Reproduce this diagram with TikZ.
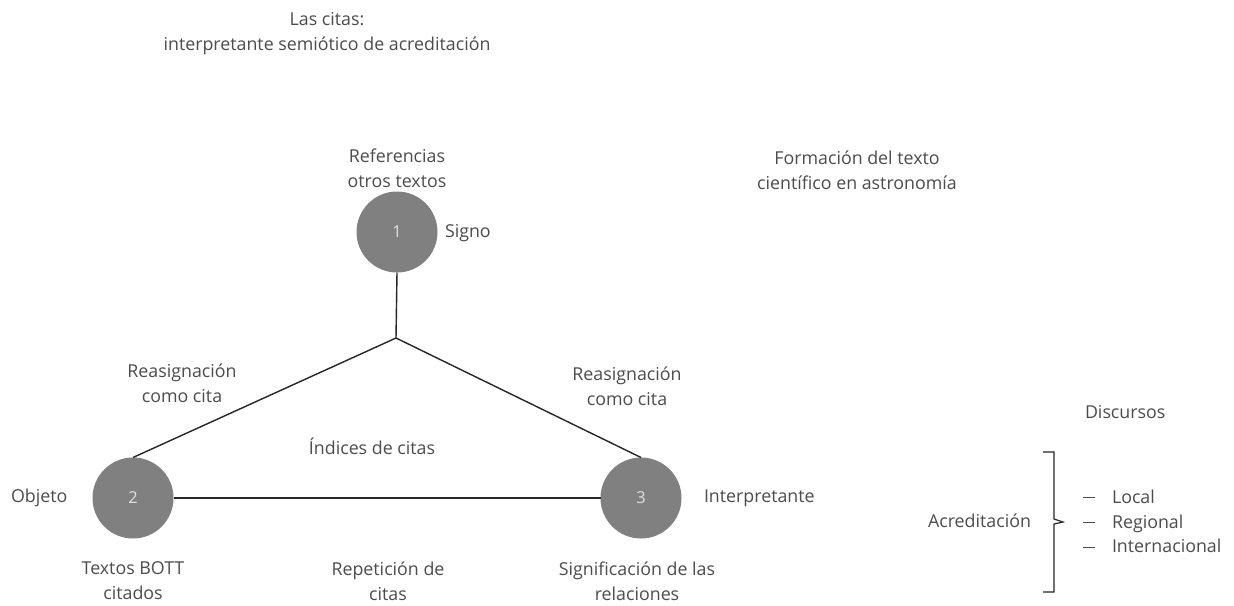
\documentclass[tikz,border=0pt]{standalone}
\usepackage{fontspec}
\setmainfont{Open Sans}
\begin{document}
\begin{tikzpicture}[x=0.03cm,y=-0.03cm,
  every node/.style={inner sep=0pt,outer sep=0pt},
  lbl/.style={text=black!70,font=\fontsize{15.2pt}{21.5pt}\selectfont,align=center},
  dot/.style={circle,fill=black!50,minimum size=81*0.03cm,text=black!12,font=\fontsize{14pt}{16pt}\selectfont},
  conn/.style={draw=black!85,line width=1.2pt},
  dashmark/.style={draw=black!70,line width=0.8pt}]
\useasboundingbox (0,0) rectangle (1234,605);
\fill[white] (0,0) rectangle (1234,605);
% circles
\node[dot] (c1) at (397,232) {1};
\node[dot] (c2) at (133,498) {2};
\node[dot] (c3) at (641,498) {3};
\coordinate (j) at (396,338);
% connectors
\draw[conn] (c1.south) -- (j);
\draw[conn] (j) -- (c2.north);
\draw[conn] (j) -- (c3.north);
\draw[conn] (c2.east) -- (c3.west);
% titles
\node[lbl] (t1) at (327,34) {Las citas:\\interpretante semiótico de acreditación};
\node[lbl] (ref) at (397,168) {Referencias\\otros textos};
\node[lbl,anchor=west] (signo) at (445,233) {Signo};
\node[lbl] (form) at (857,170) {Formación del texto\\científico en astronomía};
\node[lbl] (ra1) at (182,383) {Reasignación\\como cita};
\node[lbl] (ra2) at (627,386) {Reasignación\\como cita};
\node[lbl] (ind) at (372,446) {Índices de citas};
\node[lbl,anchor=west] (obj) at (11,498) {Objeto};
\node[lbl,anchor=west] (interp) at (704,498) {Interpretante};
\node[lbl] (tb) at (133,581) {Textos BOTT\\citados};
\node[lbl] (rep) at (388,581) {Repetición de\\citas};
\node[lbl] (sig) at (637,581) {Significación de las\\relaciones};
% discursos
\node[lbl,anchor=west] (disc) at (1085,412) {Discursos};
\node[lbl,anchor=east] (acr) at (1031,521) {Acreditación};
\coordinate (btop) at (1043,452);
\coordinate (bbot) at (1043,592);
\coordinate (btip) at (1063,522);
\draw[draw=black!85,line width=1pt] (btop) -- (1054,452) -- (1054,519) -- (btip) -- (1054,524) -- (1054,592) -- (bbot);
\node[lbl,anchor=base west] (l1) at (1112,503) {Local};
\node[lbl,anchor=base west] (l2) at (1112,528) {Regional};
\node[lbl,anchor=base west] (l3) at (1112,552) {Internacional};
\draw[dashmark] (1083,497) -- (1095,497);
\draw[dashmark] (1083,522) -- (1095,522);
\draw[dashmark] (1083,547) -- (1095,547);
\end{tikzpicture}
\end{document}
